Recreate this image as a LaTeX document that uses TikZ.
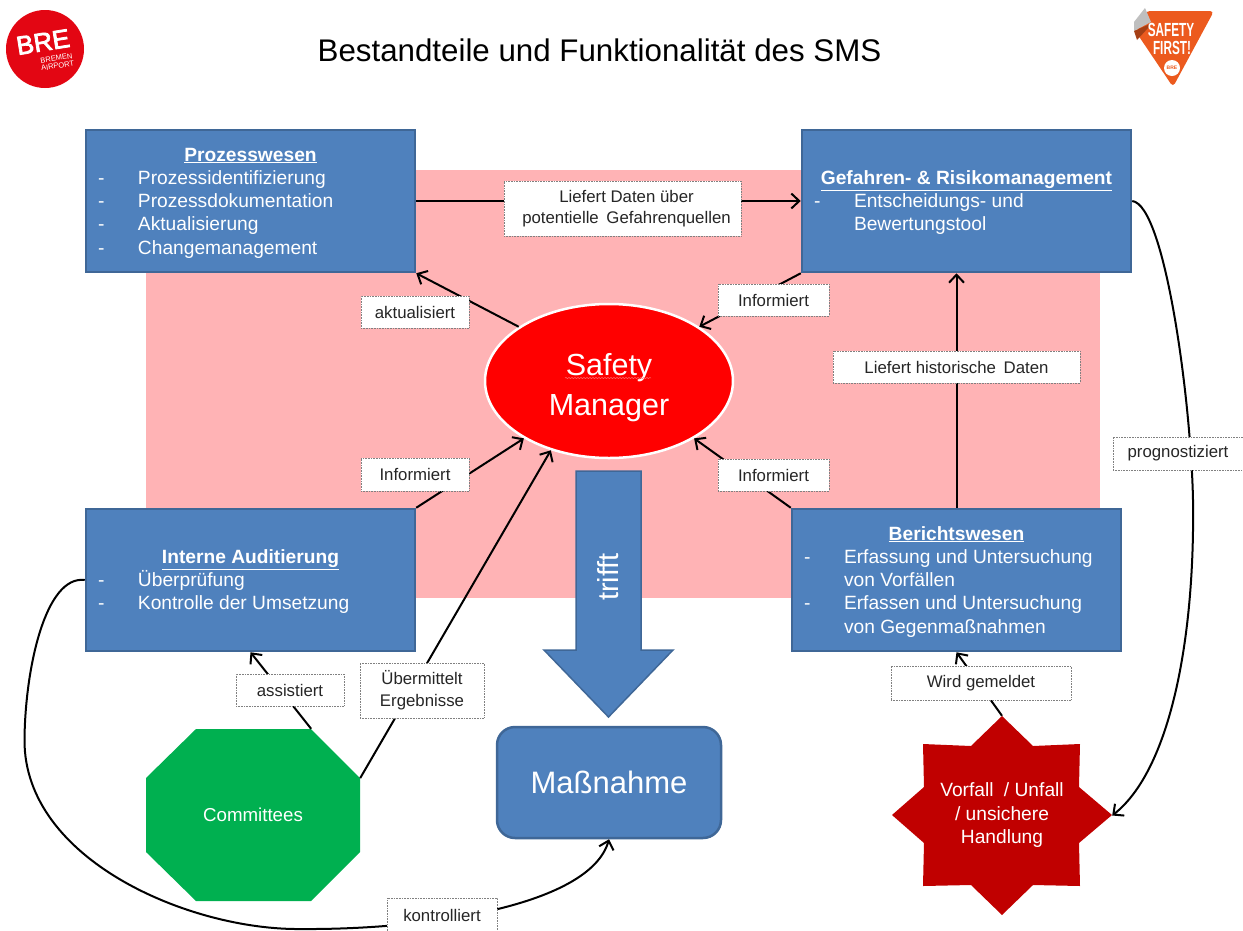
\documentclass[tikz,border=0pt]{standalone}
\usepackage{fontspec}
\setmainfont{Liberation Sans}
\newfontfamily\dickfont[FakeBold=3]{Liberation Sans}
\usetikzlibrary{arrows.meta,shapes.geometric,decorations.pathmorphing}

\definecolor{kastenblau}{HTML}{4F81BD}
\definecolor{randblau}{HTML}{3F6797}
\definecolor{flaeche}{HTML}{FFB3B5}
\definecolor{gruen}{HTML}{00B050}
\definecolor{dunkelrot}{HTML}{C00000}
\definecolor{logorot}{HTML}{E30613}
\definecolor{logoorange}{HTML}{EC5A1E}

\newcommand{\kopf}[1]{\multicolumn{2}{c}{\textbf{\underline{#1}}}}

\tikzset{
    kasten/.style={rectangle,fill=kastenblau,draw=randblau,line width=2.5pt,text=white,
        minimum width=329pt,minimum height=142pt,inner sep=0pt,
        font=\fontsize{19.2}{23.3}\selectfont},
    hinweis/.style={rectangle,fill=white,draw=gray,densely dotted,line width=0.6pt,inner sep=0pt,
        align=center,text=black!85,font=\fontsize{16.8}{22}\selectfont},
    pfeil/.style={line width=2pt,-{Straight Barb[length=8pt,width=15pt]}},
}

\begin{document}
\begin{tikzpicture}[x=1pt,y=-1pt]
    \useasboundingbox (0,0) rectangle (1243,930);

    % Pink area behind the boxes
    \fill[flaeche] (146,170) rectangle (1100,598);

    % Logos
    \node[circle,fill=logorot,minimum size=78pt,inner sep=0pt] (brelogo) at (45,49) {};
    \node[rotate=9,text=white,font=\fontsize{26}{26}\selectfont\dickfont] (bretext) at (43,42) {BRE};
    \node[rotate=9,text=white,align=center,font=\fontsize{7.5}{7.5}\selectfont] (bretext2) at (57,62) {BREMEN\\AIRPORT};

    \fill[white,rounded corners=5pt] (1137,6) -- (1219,8) -- (1173,92) -- (1131,32) -- cycle;
    \fill[logoorange,rounded corners=4pt] (1146,11) -- (1214,11) -- (1173,87) -- (1136,32) -- cycle;
    \fill[black!25] (1145,8) -- (1151,22) -- (1134,31) -- (1134,22) -- cycle;
    \fill[logoorange!70!black] (1134,31) -- (1150,24) -- (1148,28) -- (1137,40) -- cycle;
    \node[xscale=0.62,text=white,font=\fontsize{19}{19}\selectfont\bfseries] (safetytext) at (1171,30) {SAFETY};
    \node[xscale=0.62,text=white,font=\fontsize{19}{19}\selectfont\bfseries] (firsttext) at (1172,48) {FIRST!};
    \node[circle,fill=white,minimum size=16pt,inner sep=0pt,text=logoorange,font=\fontsize{5}{5}\selectfont\bfseries] (safetybre) at (1172,68) {BRE};

    % Title
    \node[font=\fontsize{31.3}{34}\selectfont] (titel) at (599.5,50) {Bestandteile und Funktionalität des SMS};

    % Boxes
    \node[kasten] (prozess) at (250.5,201) {\raisebox{-2pt}[\height][\depth]{\begin{tabular}{@{}p{40pt}@{}p{265pt}@{}}
        \kopf{Prozesswesen}\\
        - & Prozessidentifizierung\\
        - & Prozessdokumentation\\
        - & Aktualisierung\\
        - & Changemanagement
    \end{tabular}}};
    \node[kasten] (gefahren) at (966.5,201) {\raisebox{-2pt}[\height][\depth]{\begin{tabular}{@{}p{40pt}@{}p{265pt}@{}}
        \kopf{Gefahren- \& Risikomanagement}\\
        - & Entscheidungs- und\\
          & Bewertungstool
    \end{tabular}}};
    \node[kasten] (audit) at (250.5,580) {\raisebox{-2pt}[\height][\depth]{\begin{tabular}{@{}p{40pt}@{}p{265pt}@{}}
        \kopf{Interne Auditierung}\\
        - & Überprüfung\\
        - & Kontrolle der Umsetzung
    \end{tabular}}};
    \node[kasten] (bericht) at (956.5,580) {\raisebox{-2pt}[\height][\depth]{\begin{tabular}{@{}p{40pt}@{}p{265pt}@{}}
        \kopf{Berichtswesen}\\
        - & Erfassung und Untersuchung\\
          & von Vorfällen\\
        - & Erfassen und Untersuchung\\
          & von Gegenmaßnahmen
    \end{tabular}}};

    % Safety Manager
    \node[ellipse,fill=red,draw=white,line width=2.5pt,minimum width=248pt,minimum height=154pt,
        inner sep=0pt,text=white,font=\fontsize{30.5}{40}\selectfont] (manager) at (609,381)
        {\raisebox{-6pt}[\height][\depth]{\begin{tabular}{@{}c@{}}Safety\\Manager\end{tabular}}};
    \draw[decorate,decoration={snake,amplitude=0.5pt,segment length=3pt},red!55!white,line width=0.5pt]
        (565,378) -- (651,378);

    % Big arrow and measure
    \filldraw[fill=kastenblau,draw=randblau,line width=1.5pt] (576,471) -- (641,471) -- (641,650) -- (673,650)
        -- (608.5,717) -- (544,650) -- (576,650) -- cycle;
    \node[rotate=90,text=white,font=\fontsize{29}{29}\selectfont] (trifft) at (608,577) {trifft};
    \node[rectangle,rounded corners=18pt,fill=kastenblau,draw=randblau,line width=2.5pt,minimum width=224pt,
        minimum height=111pt,text=white,font=\fontsize{31}{36}\selectfont] (massnahme) at (609,782.5) {Maßnahme};

    % Committees
    \fill[gruen] (196,729) -- (311,729) -- (360,778) -- (360,852) -- (311,901) -- (196,901)
        -- (146,852) -- (146,778) -- cycle;
    \node[minimum width=214pt,minimum height=172pt,inner sep=0pt,text=white,
        font=\fontsize{18.7}{23}\selectfont] (committees) at (253,815) {Committees};

    % Star: two squares laid over each other
    \fill[dunkelrot] (1002,716) -- (1033,746) -- (1080,744) -- (1079,787) -- (1112,815) -- (1079,843)
        -- (1080,886) -- (1033,885) -- (1002,915) -- (971,885) -- (923,886) -- (924,843) -- (892,815)
        -- (924,787) -- (923,744) -- (971,746) -- cycle;
    \node[minimum width=220pt,minimum height=199pt,inner sep=0pt,text=white,align=center,
        font=\fontsize{19.2}{23.5}\selectfont] (vorfall) at (1002,815.5) {Vorfall\hspace{5pt} / Unfall\\/ unsichere\\Handlung};

    % Connectors
    \draw[pfeil] (prozess.east) -- (gefahren.west);
    \draw[pfeil] (manager.149) -- (prozess.south east);
    \draw[pfeil] (gefahren.south west) -- (manager.31);
    \draw[pfeil] (audit.north east) -- (manager.214);
    \draw[pfeil] (bericht.north west) -- (manager.326);
    \draw[pfeil] (bericht.north) -- (bericht.north |- gefahren.south);
    \draw[pfeil] (committees.19) -- (manager.230);
    \draw[pfeil] (committees.56) -- (audit.south);
    \draw[pfeil] (vorfall.north) -- (bericht.south);

    % Curved connectors
    \draw[pfeil] (gefahren.east) .. controls (1165,205) and (1191,400) .. (1193,500)
        .. controls (1195,640) and (1170,770) .. (vorfall.east);
    \draw[pfeil] (audit.west) .. controls (45,575) and (25,670) .. (24.5,740)
        .. controls (24,860) and (190,930) .. (300,929)
        .. controls (430,930) and (590,905) .. (massnahme.south);

    % Labels on the connectors
    \node[hinweis,minimum width=237pt,minimum height=55pt] (hdaten) at (622.5,208.5) {\hspace*{8pt}Liefert Daten über\\[-1.5pt]\hspace*{8pt}potentielle\hspace{3pt} Gefahrenquellen};
    \node[hinweis,minimum width=108pt,minimum height=32pt] (haktual) at (415,312) {aktualisiert};
    \node[hinweis,minimum width=111pt,minimum height=32pt] (hinfo1) at (773.5,300) {Informiert};
    \node[hinweis,minimum width=247pt,minimum height=32pt] (hhist) at (956.5,367) {Liefert historische\hspace{3pt} Daten};
    \node[hinweis,minimum width=108pt,minimum height=33pt] (hinfo2) at (415,474.5) {Informiert};
    \node[hinweis,minimum width=111pt,minimum height=32pt] (hinfo3) at (773.5,475) {Informiert};
    \node[hinweis,minimum width=130pt,minimum height=33pt] (hprog) at (1178,453.5) {prognostiziert};
    \node[hinweis,minimum width=108pt,minimum height=32pt] (hassist) at (290,690) {assistiert};
    \node[hinweis,minimum width=124pt,minimum height=55pt] (hergeb) at (422,690.5) {Übermittelt\\Ergebnisse};
    \node[hinweis,minimum width=180pt,minimum height=34pt] (hmeld) at (981,683) {Wird gemeldet};
    \node[hinweis,minimum width=110pt,minimum height=34pt] (hkontr) at (442,915) {kontrolliert};
\end{tikzpicture}
\end{document}
